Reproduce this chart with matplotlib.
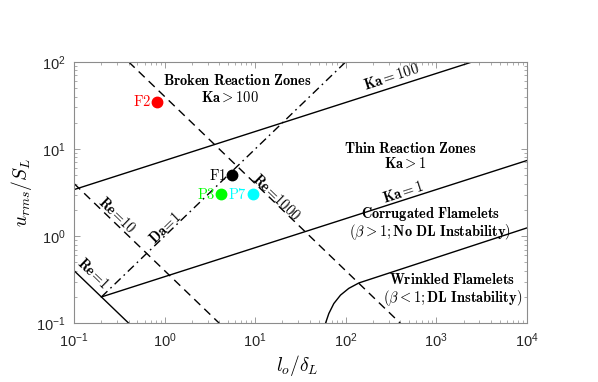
import numpy as np
import matplotlib
matplotlib.use("Agg")
import matplotlib.pyplot as plt

plt.rcParams["mathtext.fontset"] = "cm"
plt.rcParams["font.family"] = ["Liberation Sans", "DejaVu Sans"]

# regime boundaries (constants)
ka_values = [1, 100]          # u/S = ka_coeff * Ka^(2/3) * (l/d)^(1/3)
ka_coeff = 0.342
re_values = [1, 10, 1000]     # u/S * l/d = re_coeff * Re
re_coeff = 0.04
re_styles = ["-", "--", "--"]

# wrinkled / corrugated boundary
wr_l = [59.8, 65.0, 73.8, 87.5, 108.0, 140.0, 10000.0]
wr_u = [0.100, 0.129, 0.168, 0.210, 0.251, 0.290, 1.24]

# cases
case_names = ["F2", "F1", "P3", "P7"]
case_l = [0.83, 5.6, 4.23, 9.55]
case_u = [34.8, 5.02, 3.04, 3.04]
case_colors = ["#ff0000", "#000000", "#00ff00", "#00ffff"]

fig = plt.figure(figsize=(5.98, 3.82), dpi=100)
ax = fig.add_axes([0.124, 0.154, 0.757, 0.684])
ax.set_xscale("log")
ax.set_yscale("log")
ax.set_xlim(0.1, 1e4)
ax.set_ylim(0.1, 100)

lw = 1.0
# Re lines
for re, ls in zip(re_values, re_styles):
    c = re_coeff * re
    l0 = max(0.1, c / 100.0)
    l1 = c / 0.1
    l = np.array([l0, l1])
    if ls == "--":
        ax.plot(l, c / l, color="k", lw=lw, dashes=(6, 4))
    else:
        ax.plot(l, c / l, color="k", lw=lw)

# Ka lines
l_start = (re_coeff / ka_coeff) ** 0.75
for ka in ka_values:
    c = ka_coeff * ka ** (2 / 3)
    l0 = l_start if ka == 1 else 0.1
    l = np.logspace(np.log10(l0), 4, 50)
    ax.plot(l, c * l ** (1 / 3), color="k", lw=lw)

# Da = 1
l = np.array([l_start, 100.0])
ax.plot(l, l, color="k", lw=lw, dashes=(6, 3, 1.2, 3))

# wrinkled boundary
ax.plot(wr_l, wr_u, color="k", lw=lw)

# cases
for name, x, y, col in zip(case_names, case_l, case_u, case_colors):
    ax.plot(x, y, "o", color=col, ms=7.5, mec=col)
    ax.annotate(r"$\mathrm{%s}$" % name, (x, y), xytext=(-4.5, 0),
                textcoords="offset points", ha="right", va="center",
                color=col, fontsize=10.5)

bf = dict(ha="center", va="center", fontsize=10.4, color="k")
ax.text(6.35, 60.5, r"$\mathbf{Broken\ Reaction\ Zones}$", **bf)
ax.text(5.3, 39.0, r"$\mathbf{Ka} > \mathbf{100}$", **bf)
ax.text(521, 10.0, r"$\mathbf{Thin\ Reaction\ Zones}$", **bf)
ax.text(459, 6.8, r"$\mathbf{Ka} > \mathbf{1}$", **bf)
ax.text(860, 1.40,
        r"$\mathbf{Corrugated\ Flamelets}$" + "\n"
        + r"$(\beta > \mathbf{1; No\ DL\ Instability})$",
        linespacing=0.95, multialignment="center", **bf)
ax.text(1479, 0.315, r"$\mathbf{Wrinkled\ Flamelets}$", **bf)
ax.text(1517, 0.195, r"$(\beta < \mathbf{1; DL\ Instability})$", **bf)

ax.text(321, 67.3, r"$\mathbf{Ka} = \mathbf{100}$", rotation=18, **bf)
ax.text(436, 3.2, r"$\mathbf{Ka} = \mathbf{1}$", rotation=18, **bf)
ax.text(17.2, 2.8, r"$\mathbf{Re}\!=\!\mathbf{1000}$", rotation=-44, **bf)
ax.text(0.299, 1.74, r"$\mathbf{Re}\!=\!\mathbf{10}$", rotation=-44, **bf)
ax.text(1.015, 1.24, r"$\mathbf{Da}\!=\!\mathbf{1}$", rotation=44, **bf)
ax.text(0.162, 0.376, r"$\mathbf{Re}\!=\!\mathbf{1}$", rotation=-44, **bf)

ax.set_xlabel(r"$l_o/\delta_L$", fontsize=14)
ax.set_ylabel(r"$u_{rms}/S_L$", fontsize=14)
ax.xaxis.set_label_coords(0.494, -0.115)
ax.yaxis.set_label_coords(-0.088, 0.5)

for s in ax.spines.values():
    s.set_color("#8c8c8c")
    s.set_linewidth(0.8)
ax.tick_params(which="both", direction="in", top=True, right=True,
               colors="#8c8c8c", labelcolor="#262626", labelsize=10.5)
ax.tick_params(which="major", length=4, width=0.6, pad=6)
ax.tick_params(which="minor", length=2, width=0.5)

fig.savefig("out.png", dpi=100)
